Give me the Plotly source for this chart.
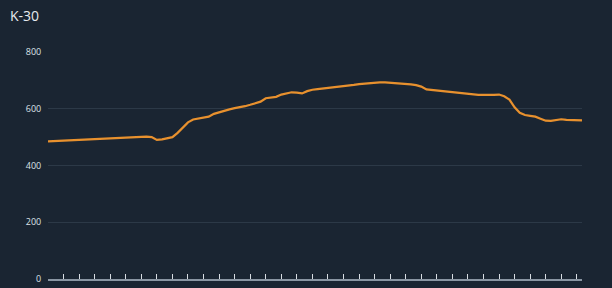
import plotly.graph_objects as go

title = "K-30"
values = [485, 486, 487, 488, 489, 490, 491, 492, 493, 493,
          494, 494, 495, 496, 497, 498, 499, 500, 502, 502,
          500, 490, 492, 497, 500, 515, 535, 552, 562, 565,
          567, 572, 582, 588, 592, 598, 602, 605, 609, 614,
          619, 625, 637, 639, 642, 650, 655, 658, 657, 654,
          662, 667, 669, 671, 672, 675, 677, 679, 681, 684,
          687, 689, 691, 692, 693, 693, 692, 691, 690, 688,
          686, 683, 678, 668, 666, 665, 663, 661, 659, 656,
          654, 653, 651, 649, 649, 648, 649, 650, 644, 632,
          605, 586, 578, 575, 572, 565, 558, 557, 560, 563,
          561, 560, 560, 559]
x_idx = list(range(len(values)))
tick_idx = list(range(0, len(values), 3))
y_ticks = [0, 200, 400, 600, 800]

bg = "#1a2532"
fig = go.Figure()
fig.add_trace(go.Scatter(x=x_idx, y=values, mode="lines",
                         line=dict(color="#e8912e", width=2.2),
                         hoverinfo="skip"))
fig.update_layout(
    width=612, height=288,
    paper_bgcolor=bg, plot_bgcolor=bg,
    margin=dict(l=48, r=30, t=52, b=9, autoexpand=False),
    showlegend=False,
    title=dict(text=title, x=10/612, xref="container", xanchor="left",
               y=1, yref="container", yanchor="top",
               pad=dict(t=11),
               font=dict(family="Open Sans", size=14, color="#e6eaee")),
)
fig.update_xaxes(range=[0, len(values) - 1], tickvals=tick_idx,
                 showticklabels=False, ticks="inside", ticklen=5,
                 tickwidth=1, tickcolor="#d8dde3",
                 showline=True, linecolor="#8a96a3", linewidth=2,
                 showgrid=False, zeroline=False, fixedrange=True,
                 automargin=False)
fig.update_yaxes(range=[0, 800], tickvals=y_ticks,
                 tickfont=dict(family="Open Sans", size=9, color="#dde2e7"),
                 ticks="outside", ticklen=4, tickcolor="rgba(0,0,0,0)",
                 showgrid=True, gridcolor="#2c3947", gridwidth=1,
                 zeroline=False, showline=False, fixedrange=True,
                 automargin=False)
fig.write_html("out.html", config={"displayModeBar": False})
